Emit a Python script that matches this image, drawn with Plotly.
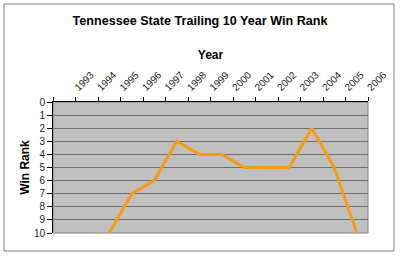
import plotly.graph_objects as go

years = ["1993", "1994", "1995", "1996", "1997", "1998", "1999",
         "2000", "2001", "2002", "2003", "2004", "2005", "2006"]
win_rank = [None, None, 10, 7, 6, 3, 4, 4, 5, 5, 5, 2, 5, 10]
y_ticks = list(range(0, 11))

W, H = 400, 256
L, R, T, B = 53, 32, 102, 23
pw, ph = W - L - R, H - T - B

def px_x(px):
    return (px - L) / pw

def px_y(py):
    return (H - B - py) / ph

fig = go.Figure()
fig.add_trace(go.Scatter(
    x=years, y=win_rank, mode="lines",
    line=dict(color="#F99B10", width=3),
    connectgaps=False, showlegend=False, hoverinfo="skip",
))

font = "Liberation Sans, Arial, sans-serif"
fig.update_layout(
    width=W, height=H,
    margin=dict(l=L, r=R, t=T, b=B),
    paper_bgcolor="white",
    plot_bgcolor="#C0C0C0",
    title=dict(text="<b>Tennessee State Trailing 10 Year Win Rank</b>",
               x=0.5, xanchor="center", y=1 - 21 / H, yanchor="middle",
               font=dict(family=font, size=12.6, color="black")),
    xaxis=dict(
        type="category", side="top", categoryorder="array", categoryarray=years,
        range=[-0.5, len(years) - 0.5],
        tickson="boundaries", ticks="outside", ticklen=4, tickcolor="black",
        tickangle=-45, tickfont=dict(family=font, size=10, color="#222"),
        ticklabelshift=11, ticklabelstandoff=4,
        showgrid=False, showline=True, linecolor="black", linewidth=1,
        title=dict(text="<b>Year</b>", font=dict(family=font, size=12, color="black"),
                   standoff=6),
        fixedrange=True,
    ),
    yaxis=dict(
        range=[10, 0], tickvals=y_ticks, ticks="outside", ticklen=5, tickcolor="black",
        tickfont=dict(family=font, size=10, color="#222"),
        showgrid=True, gridcolor="#707070", gridwidth=1,
        showline=True, linecolor="black", linewidth=1, zeroline=False,
        title=dict(text="<b>Win Rank</b>", font=dict(family=font, size=12, color="black"),
                   standoff=1),
        fixedrange=True,
    ),
    shapes=[
        dict(type="rect", xref="paper", yref="paper", x0=0, x1=1, y0=0, y1=1,
             line=dict(color="#808080", width=1), layer="below"),
        dict(type="rect", xref="paper", yref="paper",
             x0=px_x(4), x1=px_x(394), y0=px_y(251), y1=px_y(4),
             line=dict(color="#808080", width=1)),
    ],
)

fig.write_html("out.html")
